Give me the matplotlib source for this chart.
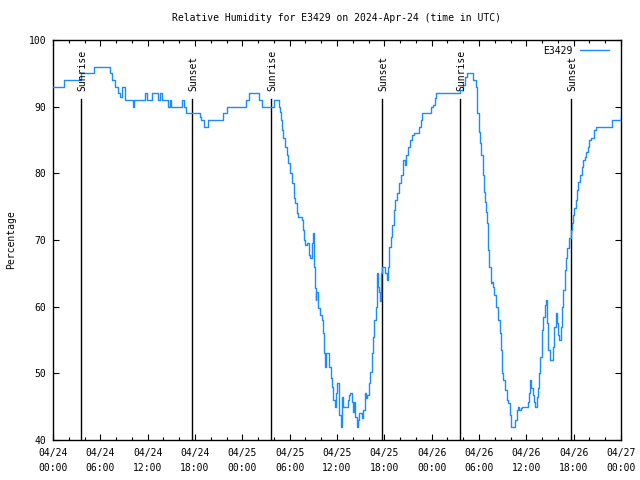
import matplotlib
matplotlib.use("Agg")
import matplotlib.pyplot as plt
import numpy as np

plt.rcParams['font.family'] = ['DejaVu Sans Mono']
plt.rcParams['font.size'] = 7

# hours since 2024-04-24 00:00 UTC
hours = [0, 1.3, 1.35, 3.5, 3.55, 5.1, 5.15, 6.9, 7.2, 7.5, 7.9, 8.2, 8.5, 8.7, 9.1, 10.0, 10.1, 10.3,
         11.4, 11.6, 11.9, 12.4, 12.5, 13.1, 13.3, 13.6, 13.8, 14.4, 14.6, 14.8, 15.0, 16.1, 16.4, 16.6,
         16.9, 18.2, 18.6, 18.8, 19.1, 19.5, 19.7, 21.5, 21.6, 22.0, 22.1, 24.3, 24.5, 24.9, 25.9, 26.1,
         26.45, 27.9, 28.0, 28.3, 28.6,
         28.8, 28.9, 29.0, 29.2, 29.4, 29.6, 29.8, 30.0, 30.3, 30.5, 30.7, 30.9, 31.1, 31.5, 31.7, 31.85,
         32.0, 32.2, 32.4, 32.6, 32.8, 32.9, 33.05, 33.2, 33.3, 33.4, 33.6, 33.8, 34.1, 34.2, 34.3, 34.45,
         34.55, 34.8, 35.0, 35.2, 35.4, 35.55, 35.75, 35.9, 36.05, 36.2, 36.3, 36.5, 36.6, 36.8, 37.2,
         37.35, 37.55, 37.7, 37.85, 38.0, 38.15, 38.3, 38.5, 38.6, 38.8, 39.05, 39.15, 39.3, 39.5, 39.65,
         39.85, 40.0, 40.2, 40.4, 40.55, 40.7, 40.9, 41.05, 41.1, 41.25, 41.35, 41.5, 41.55, 41.7, 41.95,
         42.1, 42.3, 42.5, 42.65, 42.8, 43.0, 43.2, 43.4, 43.6, 43.9, 44.1, 44.4, 44.6, 44.8, 45.0, 45.2,
         45.5, 45.7, 46.2, 46.4, 46.6, 46.8, 47.7, 47.9, 48.2, 48.4, 48.6, 51.4, 51.6, 52.0, 52.2, 52.5,
         53.0, 53.3, 53.6, 53.75, 53.96, 54.1, 54.3, 54.45, 54.6, 54.75, 54.9, 55.0, 55.1, 55.3, 55.5,
         55.65, 55.8, 55.95, 56.2, 56.4, 56.6, 56.75, 56.9, 57.1, 57.3, 57.5, 57.7, 57.9, 58.1, 58.4,
         58.6, 58.8, 58.95, 59.1, 59.3, 59.45, 59.95, 60.2, 60.3, 60.5, 60.65, 60.8, 60.97, 61.15, 61.3,
         61.45, 61.6, 61.75, 61.95, 62.15, 62.4, 62.55, 62.65, 62.75, 62.95, 63.15, 63.35, 63.55, 63.7,
         63.85, 64.05, 64.2, 64.35, 64.5, 64.7, 64.9, 65.05, 65.2, 65.4, 65.6, 65.75, 65.9, 66.1, 66.25,
         66.4, 66.6, 66.8, 67.0, 67.2, 67.4, 67.6, 67.8, 68.0, 68.2, 68.4, 68.6, 68.8, 70.7, 70.9, 71.5,
         72.0]
humidity = [93, 93, 94, 94, 95, 95, 96, 96, 95, 94, 93, 92, 91.5, 93, 91, 91, 90, 91,
            91, 92, 91, 91, 92, 92, 91, 92, 91, 91, 90, 91, 90, 90, 91, 90,
            89, 89, 88.5, 88, 87, 87, 88, 88, 89, 89, 90, 90, 91, 92, 92, 91,
            90, 90, 91, 91, 90,
            89.25, 88, 86.5, 85.25, 84, 82.75, 81.5, 80, 78.5, 76.25, 75.5, 74, 73.5, 73, 71.5, 70,
            69.3, 69.6, 67.75, 67.3, 69.5, 71, 66, 62.8, 61, 62.25, 59.8, 58.75, 58, 56, 53, 51,
            53, 53, 51, 49.3, 48, 46, 45, 47, 48.5, 47.25, 43.75, 42, 46.5, 45, 45,
            46, 46.75, 47, 45.75, 44.25, 45.75, 43.5, 42, 43, 44, 44, 43.3, 44.5, 47, 46.3,
            46.75, 48.5, 50.25, 53, 55.5, 58, 60, 63, 65, 63, 62.25, 60.8, 65, 66, 66,
            65, 64, 66, 69, 70.5, 72.3, 74.5, 76, 77, 78.5, 79.75, 82, 81.25, 82.75, 84, 85,
            85.75, 86, 86, 87, 88, 89, 89, 90, 90.25, 91.25, 92, 92, 92.5, 93.25, 94.5, 95,
            95, 94, 93, 89, 86.25, 84.5, 82.75, 79.75, 77.25, 75.75, 74.25, 72.5, 68.5, 66, 63.5,
            63.75, 63, 61.75, 60, 58, 56, 53.5, 50, 49, 47.5, 46, 45.5, 43.75, 42, 42,
            43, 44.5, 45, 44.5, 44.75, 45, 45, 45.75, 47, 49, 47.75, 46.75, 45.75, 45, 46.5,
            47.8, 50, 52.5, 56.5, 58.5, 60.25, 61, 57.5, 53.5, 52, 52, 54, 57, 59,
            57.5, 55.75, 55, 57, 60, 62.5, 65.5, 67.25, 68.75, 70.25, 71.5, 72.5, 73.75, 74.75, 76,
            77.5, 78.75, 79.75, 81, 82, 82.5, 83.25, 84, 85, 85.25, 85.25, 86.5, 87, 87, 88, 88,
            88.75]

sun_hours = [3.55, 17.6, 27.63, 41.7, 51.6, 65.65]
sun_labels = ["Sunrise", "Sunset", "Sunrise", "Sunset", "Sunrise", "Sunset"]

xtick_hours = list(range(0, 73, 6))
xtick_labels = ["04/24\n00:00", "04/24\n06:00", "04/24\n12:00", "04/24\n18:00",
                "04/25\n00:00", "04/25\n06:00", "04/25\n12:00", "04/25\n18:00",
                "04/26\n00:00", "04/26\n06:00", "04/26\n12:00", "04/26\n18:00",
                "04/27\n00:00"]
yticks = [40, 50, 60, 70, 80, 90, 100]

fig = plt.figure(figsize=(6.4, 4.8), dpi=100)
ax = fig.add_axes([53/640, 40/480, 568/640, 400/480])

ax.plot(hours, humidity, color='#1a8cff', lw=1.0, label='E3429', zorder=3,
        drawstyle='steps-post')

for h, lab in zip(sun_hours, sun_labels):
    ax.plot([h, h], [40, 91.2], color='black', lw=1.0, zorder=2)
    ax.text(h + 0.15, 92.3, lab, rotation=90, ha='center', va='bottom', fontsize=7)

ax.set_xlim(0, 72)
ax.set_ylim(40, 100)
ax.set_xticks(xtick_hours)
ax.set_xticklabels(xtick_labels, linespacing=1.55)
ax.set_xticks(list(range(0, 73, 2)), minor=True)
ax.set_yticks(yticks)
ax.tick_params(axis='both', which='major', direction='in', length=4, width=0.8,
               top=True, right=True, labelsize=7, pad=5)
ax.tick_params(axis='x', which='major', pad=6)
ax.tick_params(axis='x', which='minor', direction='in', length=2.5, width=0.8, top=True)
for s in ax.spines.values():
    s.set_linewidth(1.0)

ax.set_ylabel('Percentage', fontsize=7, labelpad=9)
ax.set_title('Relative Humidity for E3429 on 2024-Apr-24 (time in UTC)', fontsize=7, pad=14)

leg = ax.legend(loc='upper right', bbox_to_anchor=(1 - 6/568, 1.0), frameon=False,
                fontsize=7, handlelength=3.0, markerfirst=False, borderaxespad=0.2,
                handletextpad=0.8)

fig.savefig('out.png', dpi=100)
